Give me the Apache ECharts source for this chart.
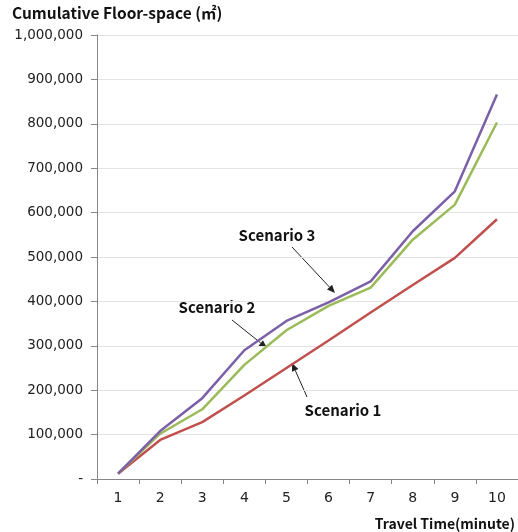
<!DOCTYPE html>
<html>
<head>
<meta charset="utf-8">
<script src="https://cdn.jsdelivr.net/npm/echarts@6/dist/echarts.min.js"></script>
<style>
  html, body { margin: 0; padding: 0; background: #fff; }
  #chart { width: 518px; height: 532px; }
</style>
</head>
<body>
<div id="chart"></div>
<script>
// 横轴：出行时间（分钟）
const categories = ["1", "2", "3", "4", "5", "6", "7", "8", "9", "10"]

// 三个情景的累计建筑面积
const scenario1 = [12000, 88000, 128000, 188000, 250000, 312000, 375000, 437000, 498000, 585000]
const scenario2 = [12000, 102000, 157000, 257000, 335000, 390000, 431000, 539000, 618000, 803000]
const scenario3 = [12000, 108000, 182000, 290000, 356000, 398000, 445000, 558000, 648000, 866000]

const chart = echarts.init(document.getElementById("chart"))

const font = "DejaVu Sans"
const boldFont = "Noto Sans CJK KR"

// 注释文字 + 箭头
const arrow = (x1, y1, x2, y2) => {
  const ang = Math.atan2(y2 - y1, x2 - x1)
  const len = 8, w = 3.5
  const bx = x2 - len * Math.cos(ang), by = y2 - len * Math.sin(ang)
  const px = -Math.sin(ang) * w, py = Math.cos(ang) * w
  return [
    { type: "line", shape: { x1, y1, x2: bx, y2: by }, style: { stroke: "#222", lineWidth: 1 } },
    { type: "polygon", shape: { points: [[x2, y2], [bx + px, by + py], [bx - px, by - py]] }, style: { fill: "#222" } },
  ]
}

const label = (x, y, text) => ({
  type: "text", x, y,
  style: { text, font: "bold 15px '" + boldFont + "'", fill: "#111", textAlign: "center", textVerticalAlign: "middle" },
})

const option = {
  animation: false,
  grid: { left: 97, right: 0, top: 35, bottom: 53, containLabel: false },
  xAxis: {
    type: "category",
    data: categories,
    boundaryGap: true,
    axisLine: { lineStyle: { color: "#868686" } },
    axisTick: { show: true, length: 5, lineStyle: { color: "#868686" } },
    axisLabel: { color: "#222", fontSize: 14, fontFamily: font, margin: 12 },
  },
  yAxis: {
    type: "value",
    min: 0,
    max: 1000000,
    interval: 100000,
    axisLine: { show: true, lineStyle: { color: "#868686" } },
    axisTick: { show: true, length: 6, lineStyle: { color: "#868686" } },
    splitLine: { lineStyle: { color: "#e3e3e3" } },
    axisLabel: {
      color: "#222",
      fontSize: 13.5,
      fontFamily: font,
      margin: 14,
      formatter: (v) => (v === 0 ? "-" : v.toLocaleString("en-US")),
    },
  },
  series: [
    { name: "Scenario 1", type: "line", data: scenario1, symbol: "none", lineStyle: { color: "#C0504D", width: 2.5 } },
    { name: "Scenario 2", type: "line", data: scenario2, symbol: "none", lineStyle: { color: "#9BBB59", width: 2.5 } },
    { name: "Scenario 3", type: "line", data: scenario3, symbol: "none", lineStyle: { color: "#7B60A8", width: 2.5 } },
  ],
  graphic: [
    { type: "text", left: 12, top: 5, style: { text: "Cumulative Floor-space (㎡)", font: "bold 15.5px '" + boldFont + "'", fill: "#111" } },
    { type: "text", right: 3, bottom: 1, style: { text: "Travel Time(minute)", font: "bold 14px '" + boldFont + "'", fill: "#111" } },
    label(277, 235, "Scenario 3"),
    label(217, 307, "Scenario 2"),
    label(343, 410, "Scenario 1"),
    ...arrow(292, 247, 335, 293),
    ...arrow(232, 320, 267, 348),
    ...arrow(307, 397, 292, 363),
  ],
}

chart.setOption(option)
</script>
</body>
</html>
